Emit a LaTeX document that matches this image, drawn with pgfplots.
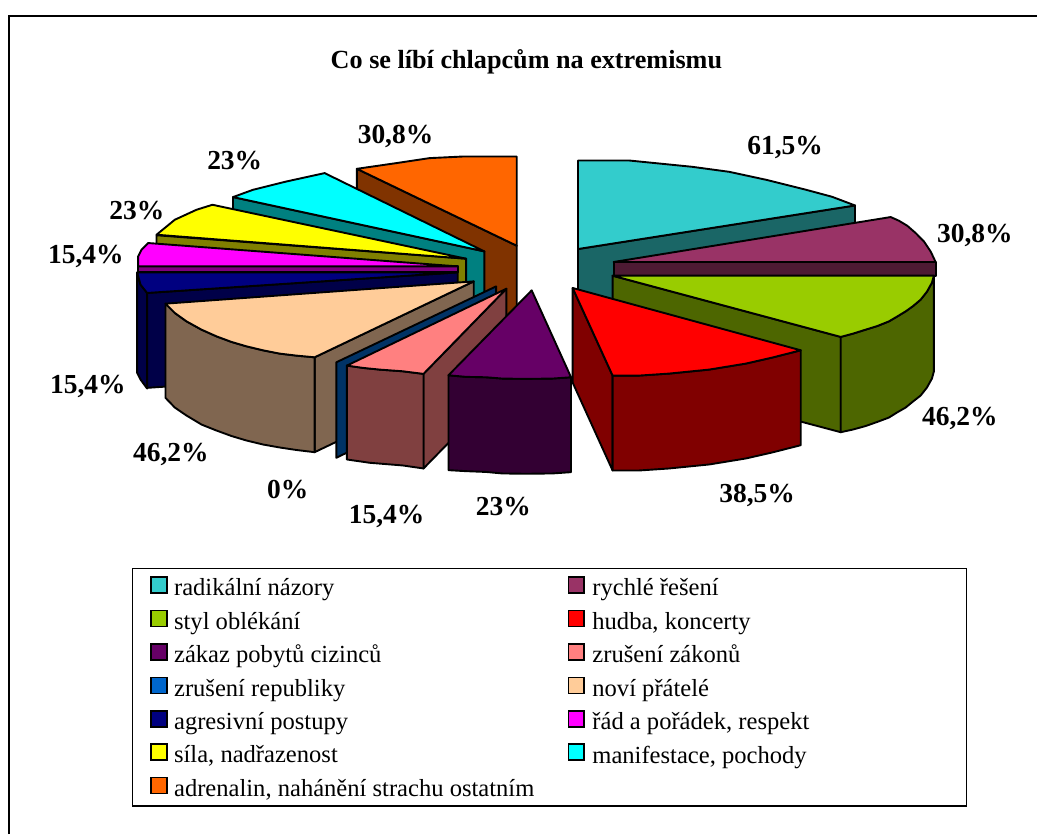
\documentclass[border=0pt]{standalone}
\usepackage{pgfplots}
\pgfplotsset{compat=1.18}
\usepackage{fontspec}
\setmainfont{Liberation Serif}
\definecolor{c1}{HTML}{33CCCC}\definecolor{d1}{HTML}{1A6666}
\definecolor{c2}{HTML}{993366}\definecolor{d2}{HTML}{4D1A33}
\definecolor{c3}{HTML}{99CC00}\definecolor{d3}{HTML}{4D6600}
\definecolor{c4}{HTML}{FF0000}\definecolor{d4}{HTML}{800000}
\definecolor{c5}{HTML}{660066}\definecolor{d5}{HTML}{330033}
\definecolor{c6}{HTML}{FF8080}\definecolor{d6}{HTML}{804040}
\definecolor{c7}{HTML}{0066CC}\definecolor{d7}{HTML}{003366}
\definecolor{c8}{HTML}{FFCC99}\definecolor{d8}{HTML}{806650}
\definecolor{c9}{HTML}{000080}\definecolor{d9}{HTML}{000048}
\definecolor{c10}{HTML}{FF00FF}\definecolor{d10}{HTML}{800080}
\definecolor{c11}{HTML}{FFFF00}\definecolor{d11}{HTML}{808000}
\definecolor{c12}{HTML}{00FFFF}\definecolor{d12}{HTML}{008080}
\definecolor{c13}{HTML}{FF6600}\definecolor{d13}{HTML}{803300}
\newcommand\poly[2]{\addplot[draw=black,line width=1.9pt,line join=round,fill=#1,forget plot] coordinates {#2} -- cycle;}
\newcommand\lab[3]{\node[font=\fontsize{27.5}{30}\selectfont\bfseries,inner sep=0pt,anchor=center] at (axis cs:#1,#2) {#3};}
\newcommand\EL[1]{\makebox[400.7pt][l]{\hspace{6.6pt}#1}}
\newcommand\ER[1]{\makebox[364pt][l]{\hspace{7.5pt}#1}}
\begin{document}
\begin{tikzpicture}
\begin{axis}[
 scale only axis,width=1038pt,height=835pt,
 xmin=0,xmax=1038,ymin=0,ymax=835,y dir=reverse,
 hide axis,clip=false,
 legend columns=2,
 legend image code/.code={\draw[line width=1.5pt,#1] (0pt,-5pt) rectangle (15.7pt,11pt);},
 legend cell align=left,
 legend style={at={(axis cs:131.7,568.3)},anchor=north west,draw=black,line width=1.6pt,fill=white,
   font=\fontsize{24.6}{24.6}\selectfont,inner xsep=18pt,inner ysep=8pt,row sep=12.3pt,
   nodes={inner sep=0pt}},
]
\addlegendimage{fill=c1}\addlegendentry{\EL{radikální názory}}
\addlegendimage{fill=c2}\addlegendentry{\ER{rychlé řešení}}
\addlegendimage{fill=c3}\addlegendentry{\EL{styl oblékání}}
\addlegendimage{fill=c4}\addlegendentry{\ER{hudba, koncerty}}
\addlegendimage{fill=c5}\addlegendentry{\EL{zákaz pobytů cizinců}}
\addlegendimage{fill=c6}\addlegendentry{\ER{zrušení zákonů}}
\addlegendimage{fill=c7}\addlegendentry{\EL{zrušení republiky}}
\addlegendimage{fill=c8}\addlegendentry{\ER{noví přátelé}}
\addlegendimage{fill=c9}\addlegendentry{\EL{agresivní postupy}}
\addlegendimage{fill=c10}\addlegendentry{\ER{řád a pořádek, respekt}}
\addlegendimage{fill=c11}\addlegendentry{\EL{síla, nadřazenost}}
\addlegendimage{fill=c12}\addlegendentry{\ER{manifestace, pochody}}
\addlegendimage{fill=c13}\addlegendentry{\EL{adrenalin, nahánění strachu ostatním}}
% page extent
\addplot[draw=none,forget plot] coordinates {(0,0)(1038,835)};
% outer frame (left and top edges only)
\addplot[draw=black,line width=2.4pt,forget plot] coordinates {(9,835)(9,16)(1038,16)};
% radikalni nazory
\poly{d1}{(578.7,249.3)(856,205.7)(856,300)(578.7,344)}
\poly{c1}{(578.7,160.7)(630,160.7)(663,164)(693,167)(730,172)(767,180)(807,190)(833,197)(856,205.7)(578.7,249.3)}
% rychle reseni
\poly{d2}{(614.3,262.3)(936.7,262.3)(936.7,276)(614.3,276)}
\poly{c2}{(614.3,262.3)(891.7,217.3)(900,221)(908.3,226)(916.7,233.3)(925,241.7)(931.7,251.7)(936.7,262.3)}
% styl oblekani
\poly{d3}{(613.3,276)(841.7,337.3)(841.7,432.7)(613.3,372)}
\poly{d3}{(841.7,337.3)(854,334)(866.7,330)(878,326.5)(890,321.7)(898,317)(906.7,311.7)(914,306.5)(921.7,300)(928,292)(933,283)(935,276)(935,371.7)(933,379)(928,388)(921.7,396)(914,402)(906.7,408)(898,413)(890,418)(878,422.5)(866.7,426.5)(854,430)(841.7,432.7)}
\poly{c3}{(613.3,276)(935,276)(933,283)(928,292)(921.7,300)(914,306.5)(906.7,311.7)(898,317)(890,321.7)(878,326.5)(866.7,330)(854,334)(841.7,337.3)}
% hudba
\poly{d4}{(573.3,288.3)(613.3,376)(613.3,471)(573.3,383)}
\poly{d4}{(613.3,376)(640,376)(670,374)(710,370)(746.7,364)(773,358)(801.7,350.7)(801.7,445.7)(773,453)(746.7,459)(710,465)(670,469)(640,471)(613.3,471)}
\poly{c4}{(573.3,288.3)(801.7,350.7)(773,358)(746.7,364)(710,370)(670,374)(640,376)(613.3,376)}
% adrenalin
\poly{d13}{(357.3,169)(517.3,246)(517.3,341)(357.3,264)}
\poly{c13}{(517.3,156.7)(517.3,246)(357.3,169)(396.7,163.3)(430,158.3)(463.3,156.7)}
% manifestace
\poly{d12}{(233.3,197.3)(485,251.7)(485,347)(233.3,292)}
\poly{c12}{(485,251.7)(233.3,197.3)(253.3,190)(286.7,181.7)(325,173.3)}
% sila
\poly{d11}{(156.7,235.5)(466.7,259)(466.7,354)(156.7,330)}
\poly{c11}{(466.7,259)(156.7,235)(175,220)(196.7,210)(212.7,205)}
% rad a poradek
\poly{d10}{(138.3,266.7)(458.3,266.7)(458.3,272.5)(138.3,272.5)}
\poly{c10}{(458.3,266.7)(148.3,243.3)(141.7,250)(138.3,256.7)(138.3,266.7)}
% agresivni postupy
\poly{d9}{(137.3,272.7)(140.7,285)(147.3,293.3)(147.3,389)(140.7,380)(137.3,373.3)}
\poly{d9}{(147.3,293.3)(458.3,272.7)(458.3,367)(147.3,388.3)}
\poly{c9}{(458.3,272.7)(147.3,293.3)(140.7,285)(137.3,272.7)}
% novi pratele
\poly{d8}{(315,357.7)(474.3,281.7)(474.3,376.7)(315,452.7)}
\poly{d8}{(165.7,304)(175,313.3)(186.7,321.7)(201.7,330)(216.7,336.7)(231.7,342.3)(246.7,346.7)(263.3,350.7)(280,354)(296.7,356)(315,357.7)(315,452.7)(296.7,450.5)(280,448)(263.3,445)(246.7,441)(231.7,436.5)(216.7,431)(201.7,425)(186.7,416)(175,408)(165.7,398.3)}
\poly{c8}{(474.3,281.7)(315,357.7)(296.7,356)(280,354)(263.3,350.7)(246.7,346.7)(231.7,342.3)(216.7,336.7)(201.7,330)(186.7,321.7)(175,313.3)(165.7,304)}
% zruseni republiky
\poly{d7}{(336.7,362.7)(496.7,286.7)(496.7,381)(336.7,458.3)}
% zruseni zakonu
\poly{d6}{(507,289)(424,374.3)(424,469)(507,384)}
\poly{d6}{(347.3,366)(363.3,368.3)(380,370)(403.3,371.7)(424,374.3)(424,469)(403.3,466)(370,463.3)(347.3,460)}
\poly{c6}{(507,289)(424,374.3)(403.3,371.7)(380,370)(363.3,368.3)(347.3,366)}
% zakaz pobytu
\poly{d5}{(449,375.7)(466.7,377.3)(486.7,377.7)(503,379)(526.7,379.3)(553,379)(571.7,377.7)(571.7,472.7)(553,474)(526.7,474.3)(503,474)(486.7,472.5)(466.7,471.7)(449,470.7)}
\poly{c5}{(532.3,290.7)(571.7,377.7)(553,379)(526.7,379.3)(503,379)(486.7,377.7)(466.7,377.3)(449,375.7)}
% labels
\node[font=\fontsize{26.2}{28}\selectfont\bfseries,inner sep=0pt] at (axis cs:527,62) {Co se líbí chlapcům na extremismu};
\lab{786}{147.5}{61,5\%}
\lab{976}{235.5}{30,8\%}
\lab{961}{418.5}{46,2\%}
\lab{758}{496.5}{38,5\%}
\lab{504}{507.5}{23\%}
\lab{387}{517.5}{15,4\%}
\lab{288}{490.5}{0\%}
\lab{171}{455.5}{46,2\%}
\lab{88}{386.5}{15,4\%}
\lab{86}{256.5}{15,4\%}
\lab{137}{210.5}{23\%}
\lab{235}{160.5}{23\%}
\lab{396}{136.5}{30,8\%}
\end{axis}
\end{tikzpicture}
\end{document}
